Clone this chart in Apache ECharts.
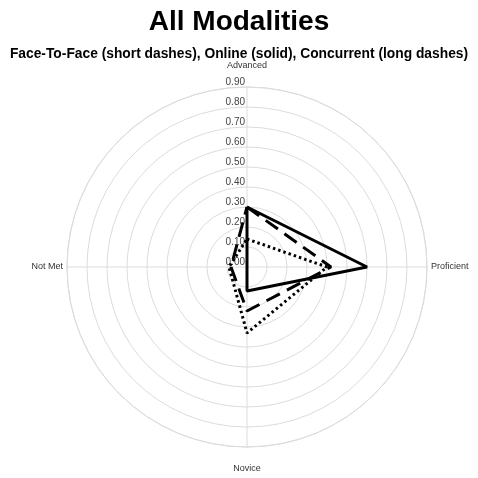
<!DOCTYPE html>
<html>
<head>
<meta charset="utf-8">
<script src="https://cdn.jsdelivr.net/npm/echarts@6/dist/echarts.min.js"></script>
<style>html,body{margin:0;padding:0;background:#fff}#c{width:478px;height:478px}</style>
</head>
<body>
<div id="c"></div>
<script>
const categories = ['Advanced', 'Proficient', 'Novice', 'Not Met'];
const faceToFace = [0.14, 0.40, 0.33, 0.09];
const online = [0.30, 0.60, 0.12, 0.00];
const concurrent = [0.30, 0.42, 0.22, 0.08];
const titleText = 'All Modalities';
const subtitleText = 'Face-To-Face (short dashes), Online (solid), Concurrent (long dashes)';
const radiusMax = 0.9;
const radiusStep = 0.1;

function closed(vals) {
  const d = vals.map((v, i) => [v, i]);
  d.push([vals[0], categories.length]);
  return d;
}

const chart = echarts.init(document.getElementById('c'), null, {renderer: 'canvas'});
const grid = '#dcdcdc';
chart.setOption({
  animation: false,
  backgroundColor: '#fff',
  title: [
    {text: titleText, left: 'center', top: 3,
     textStyle: {fontFamily: 'Liberation Sans', fontWeight: 'bold', fontSize: 28, color: '#000'}},
    {text: subtitleText, left: 'center', top: 42,
     textStyle: {fontFamily: 'Liberation Sans', fontWeight: 'bold', fontSize: 13.8, color: '#000'}}
  ],
  polar: {center: [247, 267], radius: 180},
  angleAxis: {
    type: 'value', min: 0, max: categories.length, interval: 1, startAngle: 90, clockwise: true,
    axisLine: {show: true, lineStyle: {color: grid, width: 1}},
    axisTick: {show: false},
    splitLine: {show: true, lineStyle: {color: grid, width: 1}},
    axisLabel: {
      margin: 4, fontFamily: 'Liberation Sans', fontSize: 9, color: '#333',
      formatter: function (v) {
        const name = v < categories.length ? categories[v] : '';
        if (v === 0) return '{t|' + name + '}';
        if (v === 2) return '{b|' + name + '}';
        return name;
      },
      rich: {
        t: {padding: [0, 0, 13, 0], fontFamily: 'Liberation Sans', fontSize: 9, color: '#333'},
        b: {padding: [13, 0, 0, 0], fontFamily: 'Liberation Sans', fontSize: 9, color: '#333'}
      }
    }
  },
  radiusAxis: {
    type: 'value', min: 0, max: radiusMax, interval: radiusStep,
    axisLine: {show: false}, axisTick: {show: false},
    splitLine: {show: true, lineStyle: {color: grid, width: 1}},
    axisLabel: {
      margin: 2, fontFamily: 'Liberation Sans', fontSize: 10, color: '#444',
      verticalAlign: 'bottom',
      formatter: v => v.toFixed(2)
    }
  },
  series: [
    {name: 'Face-To-Face', type: 'line', coordinateSystem: 'polar', data: closed(faceToFace),
     symbol: 'none', lineStyle: {color: '#000', width: 3, type: [2.5, 3]}},
    {name: 'Online', type: 'line', coordinateSystem: 'polar', data: closed(online),
     symbol: 'none', lineStyle: {color: '#000', width: 3}},
    {name: 'Concurrent', type: 'line', coordinateSystem: 'polar', data: closed(concurrent),
     symbol: 'none', lineStyle: {color: '#000', width: 3, type: [15, 8]}}
  ]
});
</script>
</body>
</html>
